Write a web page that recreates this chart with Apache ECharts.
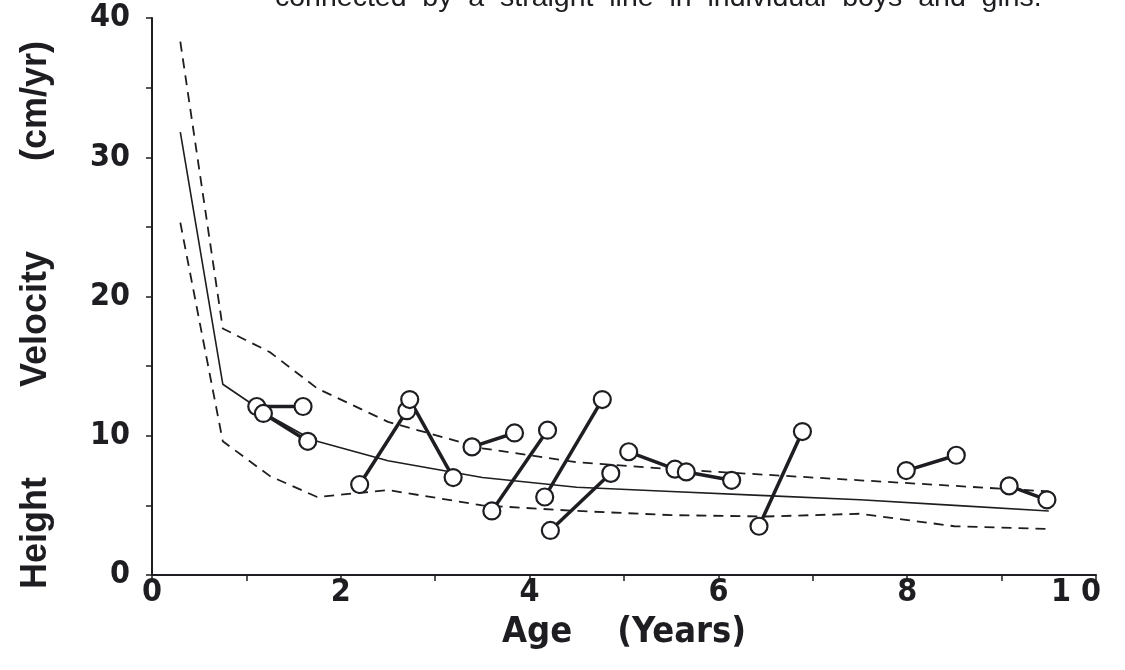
<!DOCTYPE html>
<html>
<head>
<meta charset="utf-8">
<script src="https://cdn.jsdelivr.net/npm/echarts@6/dist/echarts.min.js"></script>
<style>
html,body{margin:0;padding:0;background:#fff;}
#chart{width:1125px;height:670px;}
</style>
</head>
<body>
<div id="chart"></div>
<script>
// Axis ticks
var xTickLabels = {0:'0', 2:'2', 4:'4', 6:'6', 8:'8', 10:'1 0'};
var yTickLabels = {0:'0', 10:'10', 20:'20', 30:'30', 40:'40'};

// Reference curves: [age, velocity]
var meanCurve = [[0.3,31.8],[0.75,13.7],[1.25,11.4],[1.7,9.7],[2.5,8.2],[3.5,7.0],[4.5,6.3],[5.5,6.0],[6.5,5.7],[7.5,5.4],[8.5,5.0],[9.5,4.6]];
var upperCurve = [[0.3,38.3],[0.75,17.7],[1.25,16.0],[1.75,13.4],[2.5,11.0],[3.5,9.1],[4.5,8.1],[5.5,7.6],[6.5,7.2],[7.5,6.8],[8.5,6.4],[9.5,6.0]];
var lowerCurve = [[0.3,25.3],[0.75,9.6],[1.25,7.1],[1.75,5.6],[2.5,6.1],[3.5,5.0],[4.5,4.6],[5.5,4.3],[6.5,4.2],[7.5,4.4],[8.5,3.5],[9.5,3.3]];

// Individual children: two measurements connected by a straight line
var pair01 = [[1.11,12.1],[1.60,12.1]];
var pair02 = [[1.18,11.6],[1.65,9.6]];
var pair03 = [[2.20,6.5],[2.70,11.8]];
var pair04 = [[2.73,12.6],[3.19,7.0]];
var pair05 = [[3.39,9.2],[3.84,10.2]];
var pair06 = [[3.60,4.6],[4.19,10.4]];
var pair07 = [[4.16,5.6],[4.77,12.6]];
var pair08 = [[4.22,3.2],[4.86,7.3]];
var pair09 = [[5.05,8.85],[5.54,7.6]];
var pair10 = [[5.66,7.4],[6.14,6.8]];
var pair11 = [[6.43,3.5],[6.89,10.3]];
var pair12 = [[7.99,7.5],[8.52,8.6]];
var pair13 = [[9.08,6.4],[9.48,5.4]];
var pairs = [pair01,pair02,pair03,pair04,pair05,pair06,pair07,pair08,pair09,pair10,pair11,pair12,pair13];

var ink = '#1e1e22';
var fontFam = '"Liberation Sans Narrow", "DejaVu Sans Condensed", "Liberation Sans", Arial, sans-serif';
var series = [
  {type:'line', data:meanCurve, symbol:'none', lineStyle:{color:ink, width:1.6}, z:2},
  {type:'line', data:upperCurve, symbol:'none', lineStyle:{color:ink, width:1.8, type:[10,7]}, z:2},
  {type:'line', data:lowerCurve, symbol:'none', lineStyle:{color:ink, width:1.8, type:[10,7]}, z:2}
];
pairs.forEach(function(p){
  series.push({type:'line', data:p, symbol:'circle', symbolSize:17, showSymbol:true,
    lineStyle:{color:ink, width:3.5},
    itemStyle:{color:'#fff', borderColor:ink, borderWidth:2.2}, z:5});
});

var chart = echarts.init(document.getElementById('chart'), null, {renderer:'canvas'});
chart.setOption({
  animation:false,
  backgroundColor:'#fff',
  grid:{left:152, right:29, top:18, bottom:95, containLabel:false, outerBoundsMode:'none'},
  graphic:[{
    type:'text', left:275, top:-16,
    style:{text:'connected  by  a  straight  line  in  individual  boys  and  girls.',
      font:'28.5px "Liberation Sans", Arial, sans-serif', fill:ink}
  }],
  xAxis:{
    type:'value', min:0, max:10, interval:1,
    name:'Age    (Years)', nameLocation:'middle', nameGap:40,
    nameTextStyle:{color:ink, fontSize:36, fontFamily:fontFam, fontWeight:'bold', lineHeight:36},
    axisLine:{lineStyle:{color:ink, width:2}},
    axisTick:{show:true, length:6, lineStyle:{color:ink, width:1.5}},
    splitLine:{show:false},
    axisLabel:{color:ink, fontSize:32, fontWeight:'bold', fontFamily:fontFam, margin:2,
      formatter:function(v){
        if (v === 10) return '{r|' + xTickLabels[v] + '}';
        return xTickLabels[v] !== undefined ? xTickLabels[v] : '';
      },
      rich:{r:{fontSize:32, fontWeight:'bold', fontFamily:fontFam, color:ink, padding:[0,40,0,0]}}}
  },
  yAxis:{
    type:'value', min:0, max:40, interval:5,
    name:'Height         Velocity         (cm/yr)', nameLocation:'middle', nameGap:98, nameRotate:90,
    nameTextStyle:{color:ink, fontSize:36, fontFamily:'"Liberation Sans", Arial, sans-serif', fontWeight:'bold', padding:[0,37,0,0]},
    axisLine:{show:true, lineStyle:{color:ink, width:2}},
    axisTick:{show:true, length:6, lineStyle:{color:ink, width:1.5}},
    splitLine:{show:false},
    axisLabel:{color:ink, fontSize:32, fontWeight:'bold', fontFamily:fontFam, margin:22,
      formatter:function(v){ return yTickLabels[v] !== undefined ? yTickLabels[v] : ''; }}
  },
  series:series
});
</script>
</body>
</html>
